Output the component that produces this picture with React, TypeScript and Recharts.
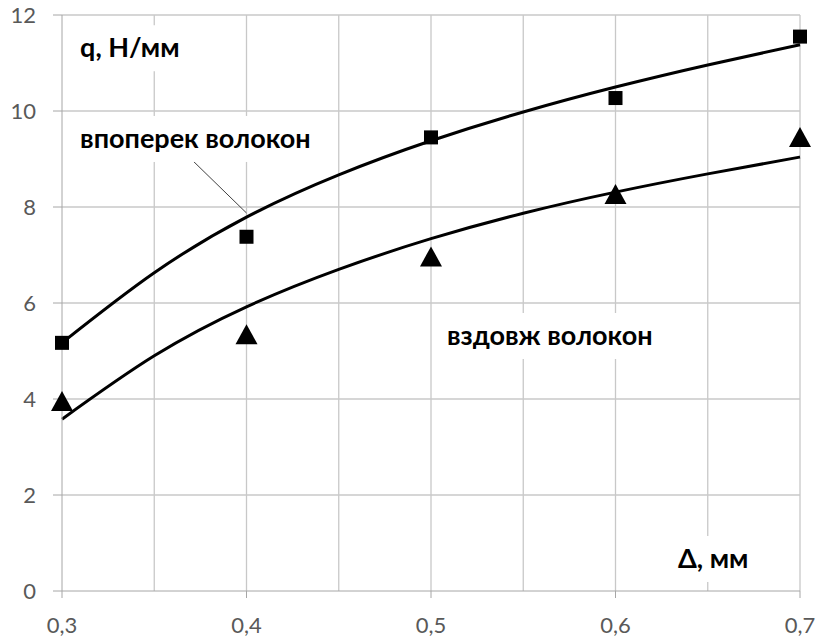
import { ComposedChart, Line, Scatter, XAxis, YAxis, ReferenceLine, ReferenceDot } from 'recharts';

const xTicks = [0.3, 0.4, 0.5, 0.6, 0.7];
const yTicks = [0, 2, 4, 6, 8, 10, 12];
const gridX = [0.35, 0.4, 0.45, 0.5, 0.55, 0.6, 0.65, 0.7];
const gridY = [2, 4, 6, 8, 10, 12];

const fitX = [0.3, 0.35, 0.4, 0.45, 0.5, 0.55, 0.6, 0.65, 0.7];
const acrossFit = [5.17, 6.63, 7.79, 8.67, 9.38, 9.98, 10.5, 10.96, 11.38];
const alongFit = [3.58, 4.9, 5.92, 6.7, 7.34, 7.87, 8.31, 8.69, 9.04];

const pointX = [0.3, 0.4, 0.5, 0.6, 0.7];
const acrossPts = [5.17, 7.38, 9.45, 10.27, 11.55];
const alongPts = [3.94, 5.33, 6.95, 8.25, 9.44];

const acrossLine = fitX.map((x, i) => ({ x, y: acrossFit[i] }));
const alongLine = fitX.map((x, i) => ({ x, y: alongFit[i] }));
const acrossData = pointX.map((x, i) => ({ x, y: acrossPts[i] }));
const alongData = pointX.map((x, i) => ({ x, y: alongPts[i] }));

const FONT = "Lato, 'Noto Sans', sans-serif";
const GRID = '#c8c8c8';
const AXIS = '#a6a6a6';

const Square = (p: any) => <rect x={p.cx - 7} y={p.cy - 7} width={14} height={14} fill="#000" />;
const Triangle = (p: any) => (
  <polygon points={`${p.cx},${p.cy - 11} ${p.cx + 11},${p.cy + 9} ${p.cx - 11},${p.cy + 9}`} fill="#000" />
);

const note = (text: string, w: number) => (p: any) => (
  <g>
    <rect x={p.cx - 8} y={p.cy - 32} width={w + 16} height={46} fill="#fff" />
    <text x={p.cx} y={p.cy} fontFamily={FONT} fontWeight={700} fontSize={27} fill="#000">
      {text}
    </text>
  </g>
);

export default function App() {
  return (
    <div>
      <style>{'body{margin:0}'}</style>
      <ComposedChart width={817} height={641} margin={{ top: 15, right: 17, left: 0, bottom: 0 }}>
        <XAxis type="number" dataKey="x" domain={[0.3, 0.7]} ticks={xTicks} height={50}
          tickFormatter={(v) => String(v).replace('.', ',')} stroke={AXIS} tickSize={7} tickMargin={19}
          tick={{ fontSize: 22, fill: '#595959', fontFamily: FONT }} />
        <YAxis type="number" dataKey="y" domain={[0, 12]} ticks={yTicks} width={62} stroke={AXIS}
          tickSize={9} tickMargin={17} tick={{ fontSize: 22, fill: '#595959', fontFamily: FONT }} />
        {gridX.map((x) => <ReferenceLine key={'gx' + x} x={x} stroke={GRID} strokeWidth={1.3} />)}
        {gridY.map((y) => <ReferenceLine key={'gy' + y} y={y} stroke={GRID} strokeWidth={1.3} />)}
        <ReferenceDot x={0.3098} y={11.12} r={0} shape={note('q, Н/мм', 98)} />
        <ReferenceDot x={0.3098} y={9.23} r={0} shape={note('впоперек волокон', 230)} />
        <ReferenceDot x={0.5087} y={5.125} r={0} shape={note('вздовж волокон', 205)} />
        <ReferenceDot x={0.6339} y={0.48} r={0} shape={note('Δ, мм', 72)} />
        <ReferenceLine segment={[{ x: 0.371, y: 8.96 }, { x: 0.4, y: 7.875 }]} stroke="#404040" strokeWidth={1} />
        <Line data={acrossLine} dataKey="y" type="natural" stroke="#000" strokeWidth={3} dot={false} isAnimationActive={false} />
        <Line data={alongLine} dataKey="y" type="natural" stroke="#000" strokeWidth={3} dot={false} isAnimationActive={false} />
        <Scatter data={acrossData} dataKey="y" shape={Square} isAnimationActive={false} />
        <Scatter data={alongData} dataKey="y" shape={Triangle} isAnimationActive={false} />
      </ComposedChart>
    </div>
  );
}
